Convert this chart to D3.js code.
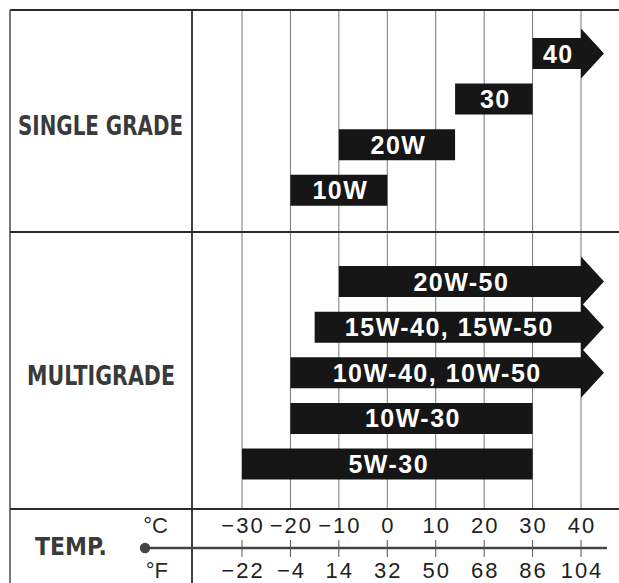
<!DOCTYPE html>
<html>
<head>
<meta charset="utf-8">
<script src="https://cdn.jsdelivr.net/npm/d3@7"></script>
<style>
  html, body { margin: 0; padding: 0; background: #fff; }
  svg { display: block; }
</style>
</head>
<body>
<script>
// ---- data ----
const singleGrades = ['40', '30', '20W', '10W'];
const multiGrades = ['20W-50', '15W-40, 15W-50', '10W-40, 10W-50', '10W-30', '5W-30'];
const grades = singleGrades.concat(multiGrades);
const lowC  = [30, 14, -10, -20, -10, -15, -20, -20, -30];
const highC = [40, 30, 14, 0, 40, 40, 40, 30, 30];
const openEnded = [true, false, false, false, true, true, true, false, false];
const groupLabels = ['SINGLE GRADE', 'MULTIGRADE'];
const celsiusTicks = [-30, -20, -10, 0, 10, 20, 30, 40];
const fahrenheitTicks = [-22, -4, 14, 32, 50, 68, 86, 104];

// ---- layout ----
const W = 619, H = 583;
const frameLeft = 10, frameTop = 10, divX = 192, sepY = 232, tempY = 509;
const barH = 31;

const svg = d3.select('body').append('svg').attr('width', W).attr('height', H);

const x = d3.scaleLinear().domain([-30, 40]).range([242, 581]);
const y = d3.scalePoint().domain(singleGrades.concat(['_gap'], multiGrades)).range([53.5, 464]);

const fmt = v => (v < 0 ? '\u2212' + Math.abs(v) : String(v));

// gridlines
svg.append('g').selectAll('line').data(celsiusTicks).join('line')
  .attr('x1', d => x(d)).attr('x2', d => x(d))
  .attr('y1', frameTop).attr('y2', tempY)
  .attr('stroke', '#777').attr('stroke-width', 1);

// frame lines
const frame = svg.append('g').attr('stroke', '#2a2a2a').attr('fill', 'none');
frame.append('line').attr('x1', frameLeft).attr('x2', W).attr('y1', frameTop).attr('y2', frameTop).attr('stroke-width', 2.2);
frame.append('line').attr('x1', frameLeft).attr('x2', frameLeft).attr('y1', frameTop).attr('y2', H).attr('stroke-width', 1.6).attr('stroke', '#555');
frame.append('line').attr('x1', divX).attr('x2', divX).attr('y1', frameTop).attr('y2', H).attr('stroke-width', 1.8);
frame.append('line').attr('x1', frameLeft).attr('x2', W).attr('y1', sepY).attr('y2', sepY).attr('stroke-width', 2);
frame.append('line').attr('x1', frameLeft).attr('x2', W).attr('y1', tempY).attr('y2', tempY).attr('stroke-width', 2);

// bars
const rows = grades.map((g, i) => ({ g, lo: lowC[i], hi: highC[i], open: openEnded[i] }));
const head = 23, headExtra = 9.5;
function barPath(d) {
  const cy = y(d.g), h2 = barH / 2;
  const x0 = x(d.lo), x1 = x(d.hi);
  if (!d.open) {
    return `M${x0},${cy - h2}H${x1}V${cy + h2}H${x0}Z`;
  }
  return `M${x0},${cy - h2}H${x1}V${cy - h2 - headExtra}L${x1 + head},${cy}` +
         `L${x1},${cy + h2 + headExtra}V${cy + h2}H${x0}Z`;
}
const bars = svg.append('g');
bars.selectAll('path').data(rows).join('path')
  .attr('d', barPath)
  .attr('fill', '#161616');

bars.selectAll('text').data(rows).join('text')
  .attr('x', d => (x(d.lo) + x(d.hi)) / 2 + 1.5)
  .attr('y', d => y(d.g) + 9)
  .attr('text-anchor', 'middle')
  .attr('fill', '#fff')
  .attr('font-family', '"Liberation Sans", Arial, sans-serif')
  .attr('font-weight', 'bold')
  .attr('font-size', 25)
  .attr('letter-spacing', 1.5)
  .text(d => d.g);

// group labels
const labelFont = '"Liberation Sans Narrow", "DejaVu Sans Condensed", "Liberation Sans", sans-serif';
const groupPos = [{ t: groupLabels[0], x0: 18, x1: 183, base: 135 }, { t: groupLabels[1], x0: 27, x1: 175, base: 385 }];
svg.append('g').selectAll('text').data(groupPos).join('text')
  .attr('x', d => d.x0).attr('y', d => d.base)
  .attr('textLength', d => d.x1 - d.x0)
  .attr('lengthAdjust', 'spacingAndGlyphs')
  .attr('fill', '#3a3a3a')
  .attr('font-family', labelFont)
  .attr('font-weight', 'bold')
  .attr('font-size', 27)
  .text(d => d.t);

// TEMP row
svg.append('text').attr('x', 35).attr('y', 555)
  .attr('textLength', 72).attr('lengthAdjust', 'spacingAndGlyphs')
  .attr('fill', '#3a3a3a').attr('font-family', labelFont).attr('font-weight', 'bold')
  .attr('font-size', 25).text('TEMP.');

const unitFont = '"Liberation Sans", Arial, sans-serif';
svg.append('text').attr('x', 168).attr('y', 533).attr('text-anchor', 'end')
  .attr('fill', '#2a2a2a').attr('font-family', unitFont).attr('font-size', 22).text('\u00B0C');
svg.append('text').attr('x', 168).attr('y', 578).attr('text-anchor', 'end')
  .attr('fill', '#2a2a2a').attr('font-family', unitFont).attr('font-size', 22).text('\u00B0F');

// thermometer
const thermoY = 548;
svg.append('line').attr('x1', 145).attr('x2', 607).attr('y1', thermoY).attr('y2', thermoY)
  .attr('stroke', '#444').attr('stroke-width', 2.6);
svg.append('circle').attr('cx', 145).attr('cy', thermoY).attr('r', 5.2).attr('fill', '#444');

const axisG = svg.append('g');
axisG.selectAll('line').data(celsiusTicks).join('line')
  .attr('x1', d => x(d)).attr('x2', d => x(d))
  .attr('y1', thermoY - 8).attr('y2', thermoY + 9)
  .attr('stroke', '#555').attr('stroke-width', 1);

axisG.selectAll('text.c').data(celsiusTicks).join('text').attr('class', 'c')
  .attr('x', d => x(d) + 1).attr('y', 533)
  .attr('text-anchor', 'middle')
  .attr('fill', '#1e1e1e').attr('font-family', unitFont).attr('font-size', 22)
  .attr('letter-spacing', 2)
  .text(d => fmt(d));

axisG.selectAll('text.f').data(fahrenheitTicks).join('text').attr('class', 'f')
  .attr('x', (d, i) => x(celsiusTicks[i]) + 1).attr('y', 578)
  .attr('text-anchor', 'middle')
  .attr('fill', '#1e1e1e').attr('font-family', unitFont).attr('font-size', 22)
  .attr('letter-spacing', 2)
  .text(d => fmt(d));
</script>
</body>
</html>
